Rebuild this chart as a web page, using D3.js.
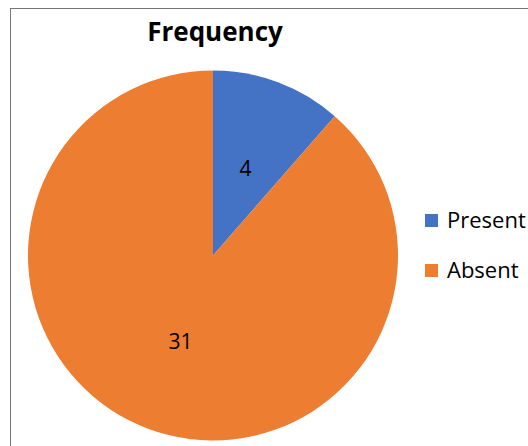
<!DOCTYPE html>
<html>
<head>
<meta charset="utf-8">
<script src="https://cdn.jsdelivr.net/npm/d3@7"></script>
<style>
  body { margin: 0; background: #fff; }
  svg { display: block; font-family: "Open Sans", "Liberation Sans", sans-serif; }
</style>
</head>
<body>
<svg width="528" height="446"></svg>
<script>
const categories = ['Present', 'Absent'];
const values = [4, 31];
const colors = ['#4472C4', '#ED7D31'];

const svg = d3.select('svg');
const cx = 213, cy = 255.5, r = 185;

// chart border
svg.append('rect')
    .attr('x', 10.5).attr('y', 8.5)
    .attr('width', 540).attr('height', 460)
    .attr('fill', 'none')
    .attr('stroke', '#767676')
    .attr('stroke-width', 1);

svg.append('text')
    .attr('x', 215).attr('y', 41)
    .attr('text-anchor', 'middle')
    .attr('font-size', 26)
    .attr('font-weight', 'bold')
    .attr('fill', '#000')
    .text('Frequency');

const data = categories.map((c, i) => ({ name: c, value: values[i], color: colors[i] }));
const pie = d3.pie().value(d => d.value).sort(null);
const arcs = pie(data);
const arc = d3.arc().innerRadius(0).outerRadius(r);
const labelArc = d3.arc().innerRadius(r * 0.5).outerRadius(r * 0.5);

const g = svg.append('g').attr('transform', 'translate(' + cx + ',' + cy + ')');
g.selectAll('path')
    .data(arcs)
    .enter().append('path')
    .attr('d', arc)
    .attr('fill', d => d.data.color);

g.selectAll('text')
    .data(arcs)
    .enter().append('text')
    .attr('transform', d => {
        const c = labelArc.centroid(d);
        return 'translate(' + c[0] + ',' + c[1] + ')';
    })
    .attr('text-anchor', 'middle')
    .attr('dy', '0.35em')
    .attr('font-size', 21)
    .attr('fill', '#000')
    .text(d => d.data.value);

const legend = svg.append('g');
const ly = d3.scalePoint().domain(categories).range([220, 270]);
categories.forEach((c, i) => {
    legend.append('rect')
        .attr('x', 425).attr('y', ly(c) - 6)
        .attr('width', 13).attr('height', 13)
        .attr('fill', colors[i]);
    legend.append('text')
        .attr('x', 447).attr('y', ly(c) + 8)
        .attr('font-size', 22)
        .attr('fill', '#000')
        .text(c);
});
</script>
</body>
</html>
